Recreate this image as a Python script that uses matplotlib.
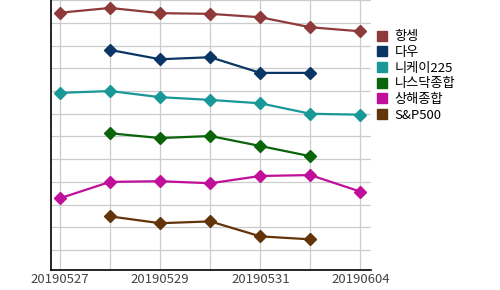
import numpy as np
import matplotlib
matplotlib.use("Agg")
import matplotlib.pyplot as plt
from matplotlib.lines import Line2D

plt.rcParams['font.family'] = ['Noto Sans CJK KR', 'DejaVu Sans']

dates = ['20190527', '20190528', '20190529', '20190530', '20190531', '20190603', '20190604']
tick_labels = ['20190527', '', '20190529', '', '20190531', '', '20190604']
nan = np.nan
hangseng = [11.45, 11.66, 11.43, 11.40, 11.25, 10.81, 10.63]
dow = [nan, 9.81, 9.40, 9.49, 8.80, 8.80, nan]
nikkei = [7.92, 8.00, 7.73, 7.61, 7.46, 7.00, 6.96]
nasdaq = [nan, 6.14, 5.93, 6.02, 5.58, 5.13, nan]
shanghai = [3.28, 4.00, 4.03, 3.94, 4.26, 4.30, 3.57]
sp500 = [nan, 2.48, 2.18, 2.26, 1.60, 1.47, nan]

names = ['항셍', '다우', '니케이225', '나스닥종합', '상해종합', 'S&P500']
series = [hangseng, dow, nikkei, nasdaq, shanghai, sp500]
colors = ['#8E3A3A', '#0A3666', '#1A9898', '#0A640A', '#C0109A', '#633309']

fig = plt.figure(figsize=(5.0, 2.9), dpi=100)
ax = fig.add_axes([0.101, 0.069, 0.641, 0.931])
x = np.arange(len(dates))
for vals, c in zip(series, colors):
    ax.plot(x, vals, color=c, lw=1.6, marker='D', markersize=6, zorder=3)

ax.set_xlim(-0.19, 6.21)
ax.set_ylim(0.12, 12.01)
ax.set_xticks(x)
ax.set_xticklabels(tick_labels, fontsize=9.5, color='#444444')
ax.set_yticks(np.arange(1, 13))
ax.set_yticklabels([])
ax.tick_params(length=0, pad=2)
ax.grid(True, color='#cccccc', lw=0.9)
ax.set_axisbelow(True)
for s in ['top', 'right']:
    ax.spines[s].set_visible(False)
for s in ['left', 'bottom']:
    ax.spines[s].set_color('black')
    ax.spines[s].set_linewidth(1.2)

handles = [Line2D([], [], ls='none', marker='s', markersize=7.5, color=c) for c in colors]
fig.legend(handles, names, loc='upper left', bbox_to_anchor=(0.752, 0.895),
           frameon=False, fontsize=9.5, handlelength=0.9, handletextpad=0.5,
           labelspacing=0.2, borderaxespad=0, borderpad=0)

fig.savefig('out.png', dpi=100)
